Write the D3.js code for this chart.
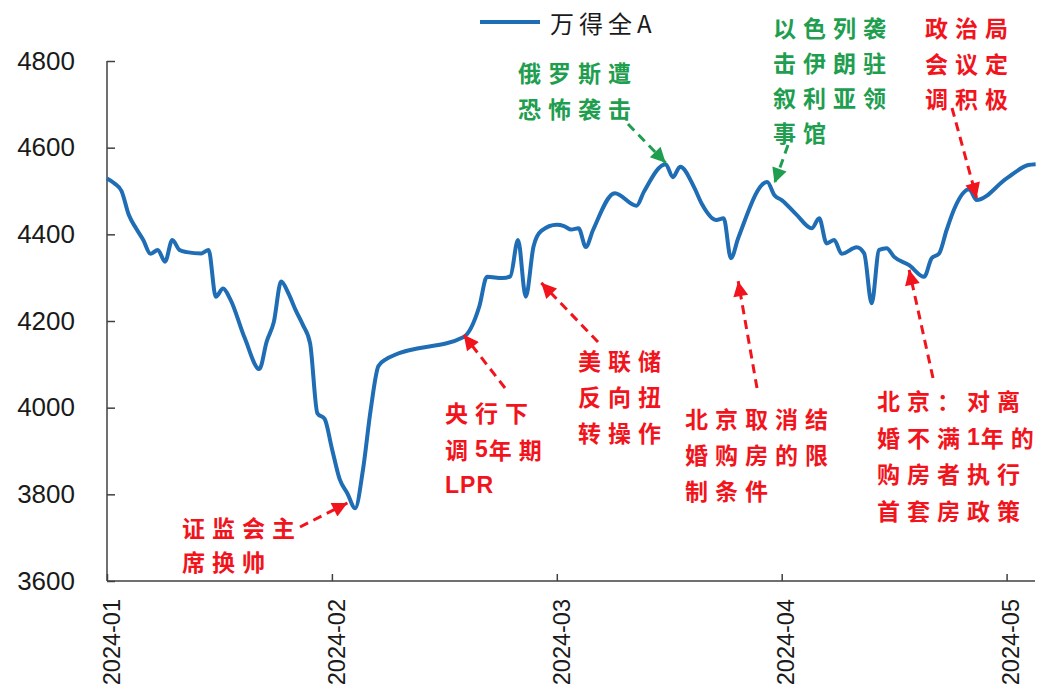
<!DOCTYPE html>
<html>
<head>
<meta charset="utf-8">
<script src="https://cdn.jsdelivr.net/npm/d3@7"></script>
<style>
  body { margin: 0; background: #fff; }
  svg { display: block; }
</style>
</head>
<body>
<div id="chart"></div>
<script>
// 万得全A 走势
const dates = [
  '2024-01-01', '2024-01-02', '2024-01-03', '2024-01-04', '2024-01-05', '2024-01-06', '2024-01-07',
  '2024-01-08', '2024-01-09', '2024-01-10', '2024-01-11', '2024-01-12', '2024-01-14', '2024-01-15',
  '2024-01-16', '2024-01-17', '2024-01-18', '2024-01-20', '2024-01-22', '2024-01-23', '2024-01-24',
  '2024-01-25', '2024-01-26', '2024-01-27', '2024-01-28', '2024-01-29', '2024-01-30', '2024-01-31',
  '2024-02-01', '2024-02-02', '2024-02-03', '2024-02-04', '2024-02-05', '2024-02-06', '2024-02-07',
  '2024-02-08', '2024-02-09', '2024-02-18', '2024-02-20', '2024-02-21', '2024-02-23', '2024-02-24',
  '2024-02-25', '2024-02-26', '2024-02-27', '2024-02-28',
  '2024-03-01', '2024-03-02', '2024-03-03', '2024-03-04', '2024-03-05', '2024-03-06', '2024-03-09',
  '2024-03-12', '2024-03-13', '2024-03-16', '2024-03-17', '2024-03-18', '2024-03-20', '2024-03-21',
  '2024-03-23', '2024-03-24', '2024-03-25', '2024-03-26', '2024-03-30', '2024-03-31',
  '2024-04-01', '2024-04-03', '2024-04-05', '2024-04-06', '2024-04-07', '2024-04-08', '2024-04-09',
  '2024-04-11', '2024-04-12', '2024-04-13', '2024-04-14', '2024-04-15', '2024-04-16', '2024-04-18',
  '2024-04-20', '2024-04-21', '2024-04-22', '2024-04-23', '2024-04-24', '2024-04-26', '2024-04-27',
  '2024-05-01', '2024-05-04', '2024-05-05'
];

const values = [
  4529, 4518, 4500, 4445, 4414, 4387, 4355,
  4364, 4337, 4387, 4364, 4359, 4356, 4364,
  4256, 4275, 4250, 4160, 4089, 4152, 4198,
  4291, 4264, 4225, 4191, 4148, 3987, 3974,
  3906, 3835, 3802, 3768, 3856, 3995, 4096,
  4112, 4121, 4163, 4233, 4302, 4299, 4303,
  4387, 4256, 4372, 4408,
  4422, 4419, 4411, 4414, 4371, 4410, 4495,
  4466, 4498, 4562, 4532, 4556, 4506, 4470,
  4433, 4437, 4345, 4391, 4521, 4490,
  4479, 4445, 4414, 4437, 4379, 4387, 4355,
  4370, 4356, 4241, 4364, 4368, 4348, 4329,
  4302, 4345, 4356, 4410, 4458, 4504, 4479,
  4529, 4560, 4562
];

const monthTicks = ['2024-01-01', '2024-02-01', '2024-03-01', '2024-04-01', '2024-05-01'];
const yTicks = [3600, 3800, 4000, 4200, 4400, 4600, 4800];
const seriesName = '万得全A';

// 事件标注：文字、颜色、箭头指向的日期与点位
const noteTexts = [
  ['俄罗斯遭', '恐怖袭击'],
  ['以色列袭', '击伊朗驻', '叙利亚领', '事馆'],
  ['政治局', '会议定', '调积极'],
  ['证监会主', '席换帅'],
  ['央行下', '调5年期', 'LPR'],
  ['美联储', '反向扭', '转操作'],
  ['北京取消结', '婚购房的限', '制条件'],
  ['北京：对离', '婚不满1年的', '购房者执行', '首套房政策']
];
const noteKinds = ['green', 'green', 'red', 'red', 'red', 'red', 'red', 'red'];
const noteDates = ['2024-03-16', '2024-03-31', '2024-04-27', '2024-02-03', '2024-02-18', '2024-02-28', '2024-03-26', '2024-04-18'];
const noteValues = [4565, 4518, 4484, 3780, 4168, 4288, 4292, 4318];

const width = 1041;
const height = 687;
const margin = { top: 61, right: 6, bottom: 106, left: 107 };
const monthWidth = 224.9;
const blue = '#1f6db4';
const colors = { red: '#f2141c', green: '#1f9e50' };

const parse = d3.timeParse('%Y-%m-%d');
const series = dates.map((d, i) => ({ date: parse(d), value: values[i] }));

const svg = d3.select('#chart')
  .append('svg')
  .attr('width', width)
  .attr('height', height);

// 每月等宽的时间轴
const monthStarts = monthTicks.concat(['2024-06-01']).map(parse);
const x = d3.scaleTime()
  .domain(monthStarts)
  .range(monthStarts.map((_, i) => margin.left + i * monthWidth));

const y = d3.scaleLinear()
  .domain([3600, 4800])
  .range([height - margin.bottom, margin.top]);

const plotRight = width - margin.right;
const axisColor = '#404040';
const tickFont = '"Liberation Sans", Arial, sans-serif';

// y 轴
const yAxis = svg.append('g')
  .attr('transform', `translate(${margin.left},0)`)
  .call(d3.axisLeft(y).tickValues(yTicks).tickSize(-8).tickPadding(32).tickFormat(d3.format('d')));
yAxis.select('.domain').remove();
yAxis.selectAll('.tick line').attr('stroke', axisColor).attr('stroke-width', 1.5);
yAxis.selectAll('.tick text')
  .attr('fill', '#1a1a1a')
  .style('font-family', tickFont)
  .style('font-size', '26px');

svg.append('line')
  .attr('x1', margin.left).attr('x2', margin.left)
  .attr('y1', y(4800)).attr('y2', y(3600))
  .attr('stroke', axisColor).attr('stroke-width', 1.5);

// x 轴
const xAxis = svg.append('g')
  .attr('transform', `translate(0,${y(3600)})`)
  .call(d3.axisBottom(x).tickValues(monthTicks.map(parse)).tickSize(-7).tickFormat(d3.timeFormat('%Y-%m')));
xAxis.select('.domain').remove();
xAxis.selectAll('.tick line').attr('stroke', axisColor).attr('stroke-width', 1.5);
xAxis.selectAll('.tick text')
  .attr('fill', '#1a1a1a')
  .attr('text-anchor', 'end')
  .attr('transform', 'translate(4,18) rotate(-90)')
  .attr('x', 0)
  .attr('y', 0)
  .attr('dy', '0.35em')
  .style('font-family', tickFont)
  .style('font-size', '23.5px');

svg.append('line')
  .attr('x1', margin.left).attr('x2', plotRight)
  .attr('y1', y(3600)).attr('y2', y(3600))
  .attr('stroke', axisColor).attr('stroke-width', 1.5);

// 折线
const line = d3.line()
  .x((d) => x(d.date))
  .y((d) => y(d.value))
  .curve(d3.curveMonotoneX);

svg.append('path')
  .datum(series)
  .attr('fill', 'none')
  .attr('stroke', blue)
  .attr('stroke-width', 4)
  .attr('stroke-linejoin', 'round')
  .attr('d', line);

// 图例
const legend = svg.append('g').attr('transform', 'translate(480,22)');
legend.append('line')
  .attr('x1', 0).attr('x2', 60)
  .attr('stroke', blue).attr('stroke-width', 4);
legend.append('text')
  .attr('x', 70)
  .attr('y', 0)
  .attr('dominant-baseline', 'central')
  .attr('fill', '#1a1a1a')
  .style('font-family', '"Noto Sans CJK SC", sans-serif')
  .style('font-size', '24px')
  .style('letter-spacing', '5px')
  .text(seriesName);

// 标注
const defs = svg.append('defs');
Object.entries(colors).forEach(([kind, color]) => {
  defs.append('marker')
    .attr('id', `head-${kind}`)
    .attr('viewBox', '0 0 10 10')
    .attr('refX', 10)
    .attr('refY', 5)
    .attr('markerUnits', 'userSpaceOnUse')
    .attr('markerWidth', 17)
    .attr('markerHeight', 15)
    .attr('orient', 'auto')
    .append('path')
    .attr('d', 'M0,0 L10,5 L0,10 Z')
    .attr('fill', color);
});

// 文字左上位置、首行中心、行距、虚线起点
const noteLayout = [
  { x: 518, y: 72, lh: 36, tail: [628, 124] },
  { x: 773, y: 27, lh: 35, tail: [788, 145] },
  { x: 925, y: 27, lh: 35.5, tail: [952, 108] },
  { x: 182, y: 527, lh: 34, tail: [300, 527] },
  { x: 445, y: 412, lh: 36.5, tail: [505, 388] },
  { x: 578, y: 360, lh: 36, tail: [598, 342] },
  { x: 685, y: 418, lh: 36, tail: [757, 388] },
  { x: 877, y: 400, lh: 36.5, tail: [933, 378] }
];

noteTexts.forEach((lines, i) => {
  const layout = noteLayout[i];
  const color = colors[noteKinds[i]];
  const tipX = x(parse(noteDates[i]));
  const tipY = y(noteValues[i]);

  svg.append('line')
    .attr('x1', layout.tail[0]).attr('y1', layout.tail[1])
    .attr('x2', tipX).attr('y2', tipY)
    .attr('stroke', color)
    .attr('stroke-width', 3)
    .attr('stroke-dasharray', '9,6')
    .attr('marker-end', `url(#head-${noteKinds[i]})`);

  const text = svg.append('text')
    .attr('fill', color)
    .attr('dominant-baseline', 'central')
    .style('font-family', '"Noto Sans CJK SC", sans-serif')
    .style('font-weight', 'bold')
    .style('font-size', '23px');

  lines.forEach((s, j) => {
    // 汉字加字距，字母数字保持紧凑
    const runs = s.split(/([A-Za-z0-9]+)/).filter((r) => r !== '');
    runs.forEach((run, k) => {
      const latin = /^[A-Za-z0-9]+$/.test(run);
      const span = text.append('tspan')
        .style('letter-spacing', latin ? '1px' : '7px')
        .style('font-family', latin ? tickFont : null)
        .text(run);
      if (k === 0) {
        span.attr('x', layout.x).attr('y', layout.y + j * layout.lh);
      }
    });
  });
});
</script>
</body>
</html>
